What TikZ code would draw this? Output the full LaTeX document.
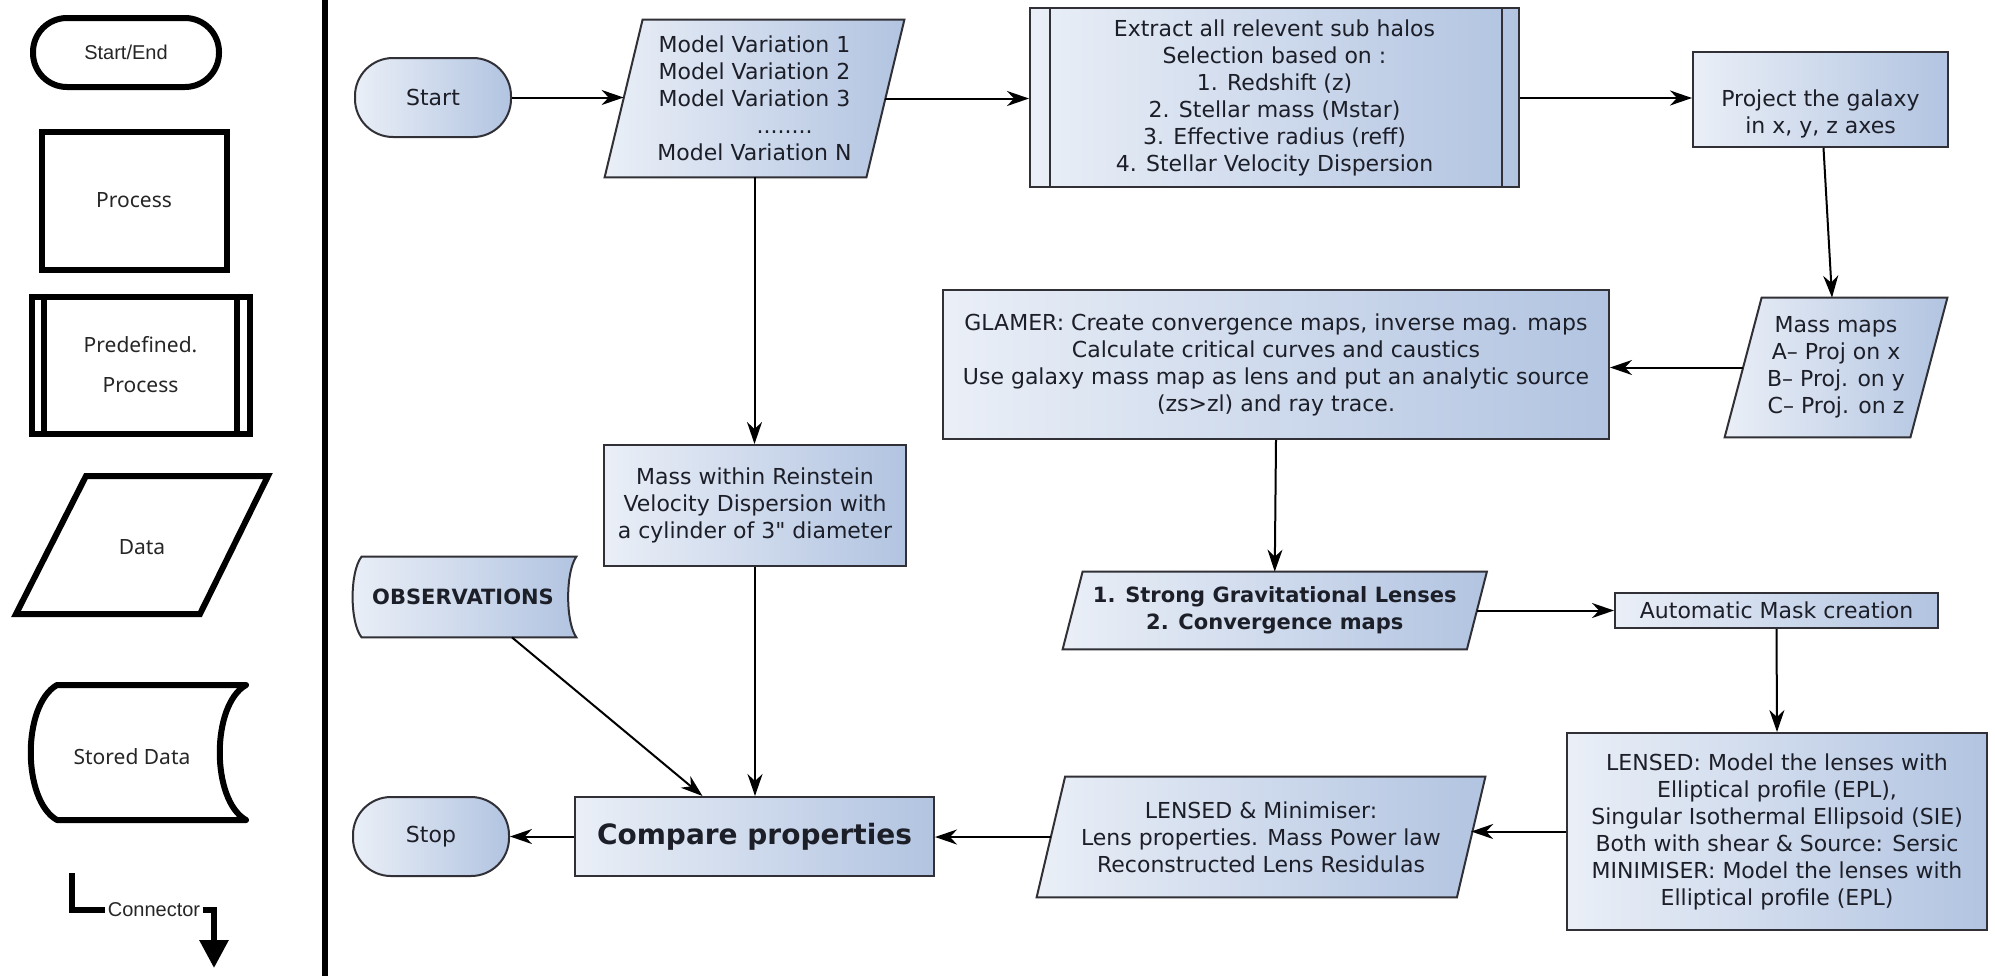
\documentclass[tikz,border=0pt]{standalone}
\usepackage{fontspec}
\setmainfont{DejaVu Sans}
\newfontfamily\qfont{DejaVu Sans}[Ligatures=TeXOff]
\newfontfamily\arialfont{Liberation Sans}
\newfontfamily\legfont{Noto Sans}
\usetikzlibrary{arrows.meta,calc,backgrounds}
\definecolor{fillL}{RGB}{234,239,247}
\definecolor{fillR}{RGB}{178,196,225}
\definecolor{edge}{RGB}{48,48,54}
\definecolor{ink}{RGB}{28,30,40}
\begin{document}
\begin{tikzpicture}[x=0.5pt,y=-0.5pt,
  mainfont/.style={font=\fontsize{11}{13.5}\selectfont},
  boldfont/.style={font=\bfseries\fontsize{10.5}{13.5}\selectfont},
  box/.style={draw=edge, line width=1pt, left color=fillL, right color=fillR, text=ink, mainfont, align=center, inner sep=0pt},
  txt/.style={text=ink, mainfont, align=center, inner sep=0pt},
  shapefill/.style={draw=edge, line width=1pt, left color=fillL, right color=fillR},
  arr/.style={draw=black, line width=1pt, -{Stealth[length=11pt,width=7.5pt,inset=3.5pt]}},
  leg/.style={draw=black, line width=3pt},
  legtxt/.style={font=\legfont\fontsize{10.5}{20}\selectfont, align=center, inner sep=1pt, text=black!85},
  legarial/.style={font=\arialfont\fontsize{10}{12}\selectfont, inner sep=1pt, text=black!85}
]
\begin{pgfonlayer}{background}
\fill[white] (0,0) rectangle (1995,976);
\end{pgfonlayer}
\useasboundingbox (0,0) rectangle (1995,976);

% ---------------- legend ----------------
\node[leg, rounded corners=17pt, minimum width=93pt, minimum height=34.5pt, legarial] (lse) at (126,52.5) {Start/End};
\node[leg, minimum width=92.5pt, minimum height=69pt, legtxt] (lpr) at (134,200.5) {Process};
\node[leg, minimum width=109pt, minimum height=68.5pt, legtxt] (lpp) at (140.5,365) {Predefined.\\Process};
\draw[leg] ($(lpp.north west)+(15,0)$) -- ($(lpp.south west)+(15,0)$);
\draw[leg] ($(lpp.north east)+(-16,0)$) -- ($(lpp.south east)+(-16,0)$);
\draw[leg, line join=miter] (86,476) -- (268,476) -- (200,614) -- (16,614) -- cycle;
\node[legtxt] (ldt) at (142,547) {Data};
\draw[leg, line join=round] (57,685) -- (246,685) .. controls (211,705) and (211,800) .. (246,820) -- (57,820) .. controls (22,800) and (22,705) .. (57,685) -- cycle;
\node[legtxt] (lsd) at (132,757) {Stored Data};
\node[legarial] (lcn) at (154,910) {Connector};
\coordinate (lc0) at (72,873);
\coordinate (lc1) at (214,968);
\draw[leg, line join=miter] (lc0) |- (lcn.west);
\draw[leg, line join=miter, -{Triangle[length=14pt,width=14pt]}] (lcn.east) -| (lc1);

% divider
\draw[line width=3pt] (325,0) -- (325,976);

% ---------------- main flow ----------------
\node[box, rounded corners=19pt, minimum width=78pt, minimum height=39.5pt] (start) at (433,97.5) {Start};

\node[txt, minimum width=130.5pt, minimum height=78.5pt] (mv) at (754.5,98.5)
  {Model Variation 1\\Model Variation 2\\Model Variation 3\\\hspace*{30pt}........\\Model Variation N};
\begin{pgfonlayer}{background}
\path[shapefill] ($(mv.south west)+(-19,0)$) -- ($(mv.north west)+(19,0)$) -- ($(mv.north east)+(19,0)$) -- ($(mv.south east)+(-19,0)$) -- cycle;
\end{pgfonlayer}

\node[box, minimum width=244.5pt, minimum height=89.5pt] (ex) at (1274.5,97.5)
  {Extract all relevent sub halos\\Selection based on :\\1. Redshift (z)\\2. Stellar mass (Mstar)\\3. Effective radius (reff)\\4. Stellar Velocity Dispersion};
\draw[draw=edge, line width=1pt] ($(ex.north west)+(21,0)$) -- ($(ex.south west)+(21,0)$);
\draw[draw=edge, line width=1pt] ($(ex.north east)+(-18,0)$) -- ($(ex.south east)+(-18,0)$);

\node[box, minimum width=127.5pt, minimum height=47.5pt] (proj) at (1820.5,99.5)
  {\strut\\Project the galaxy\\in x, y, z axes};

\node[txt, minimum width=92.5pt, minimum height=69.5pt] (mm) at (1836,367.5)
  {Mass maps\\A-- Proj on x\\B-- Proj. on y\\C-- Proj. on z};
\begin{pgfonlayer}{background}
\path[shapefill] ($(mm.south west)+(-18.5,0)$) -- ($(mm.north west)+(18.5,0)$) -- ($(mm.north east)+(18.5,0)$) -- ($(mm.south east)+(-18.5,0)$) -- cycle;
\end{pgfonlayer}

\node[box, minimum width=333pt, minimum height=74.5pt] (gl) at (1276,364.5)
  {GLAMER: Create convergence maps, inverse mag. maps\\Calculate critical curves and caustics\\Use galaxy mass map as lens and put an analytic source\\(zs>zl) and ray trace.};

\node[box, minimum width=151pt, minimum height=60.5pt] (rm) at (755,505.5)
  {Mass within Reinstein\\Velocity Dispersion with\\a cylinder of 3{\qfont "} diameter};

\node[txt, boldfont, minimum width=107pt, minimum height=40pt] (obs) at (469,597) {OBSERVATIONS\hspace*{6pt}};
\begin{pgfonlayer}{background}
\path[shapefill] (obs.north west) -- (obs.north east) .. controls ($(obs.north east)+(-11,15)$) and ($(obs.south east)+(-11,-15)$) .. (obs.south east) -- (obs.south west) .. controls ($(obs.south west)+(-12,-15)$) and ($(obs.north west)+(-12,15)$) .. (obs.north west) -- cycle;
\end{pgfonlayer}

\node[txt, boldfont, minimum width=201.75pt, minimum height=38.5pt] (sl) at (1274.75,610.5)
  {1. Strong Gravitational Lenses\\2. Convergence maps};
\begin{pgfonlayer}{background}
\path[shapefill] ($(sl.south west)+(-10,0)$) -- ($(sl.north west)+(10,0)$) -- ($(sl.north east)+(10,0)$) -- ($(sl.south east)+(-10,0)$) -- cycle;
\end{pgfonlayer}

\node[box, minimum width=161.5pt, minimum height=17.5pt] (am) at (1776.5,610.5) {Automatic Mask creation};

\node[box, minimum width=210pt, minimum height=98.5pt] (ls) at (1777,831.5)
  {LENSED: Model the lenses with\\Elliptical profile (EPL),\\Singular Isothermal Ellipsoid (SIE)\\Both with shear \& Source: Sersic\\MINIMISER: Model the lenses with\\Elliptical profile (EPL)};

\node[txt, minimum width=209.75pt, minimum height=60pt] (lm) at (1261,837)
  {LENSED \& Minimiser:\\Lens properties. Mass Power law\\Reconstructed Lens Residulas};
\begin{pgfonlayer}{background}
\path[shapefill] ($(lm.south west)+(-14.25,0)$) -- ($(lm.north west)+(14.25,0)$) -- ($(lm.north east)+(14.25,0)$) -- ($(lm.south east)+(-14.25,0)$) -- cycle;
\end{pgfonlayer}

\node[box, font=\bfseries\fontsize{14}{16}\selectfont, minimum width=179.5pt, minimum height=39.5pt] (cmp) at (754.5,836.5) {Compare properties};

\node[box, rounded corners=19pt, minimum width=78pt, minimum height=39.5pt] (stop) at (431,836.5) {Stop};

% ---------------- connectors ----------------
\draw[arr] (start.east) -- (start.east -| mv.west);
\draw[arr] (mv.east) -- (mv.east -| ex.west);
\draw[arr] ($(ex.east)+(0,0.5)$) -- ($(ex.east -| proj.west)+(0,0.5)$);
\draw[arr] ($(proj.south)+(3,0)$) -- ($(mm.north)+(-4,0)$);
\draw[arr] (mm.west) -- (mm.west -| gl.east);
\draw[arr] (gl.south) -- (sl.north);
\draw[arr] (sl.east) -- (am.west);
\draw[arr] (am.south) -- (ls.north);
\draw[arr] (ls.west) -- (ls.west -| lm.east);
\draw[arr] (lm.west) -- (lm.west -| cmp.east);
\draw[arr] (cmp.west) -- (cmp.west -| stop.east);
\draw[arr] (mv.south) -- (mv.south |- rm.north);
\draw[arr] (rm.south) -- (rm.south |- cmp.north);
\draw[arr] ($(obs.south)+(43,0)$) -- ($(cmp.north)+(-52,0)$);
\end{tikzpicture}
\end{document}
